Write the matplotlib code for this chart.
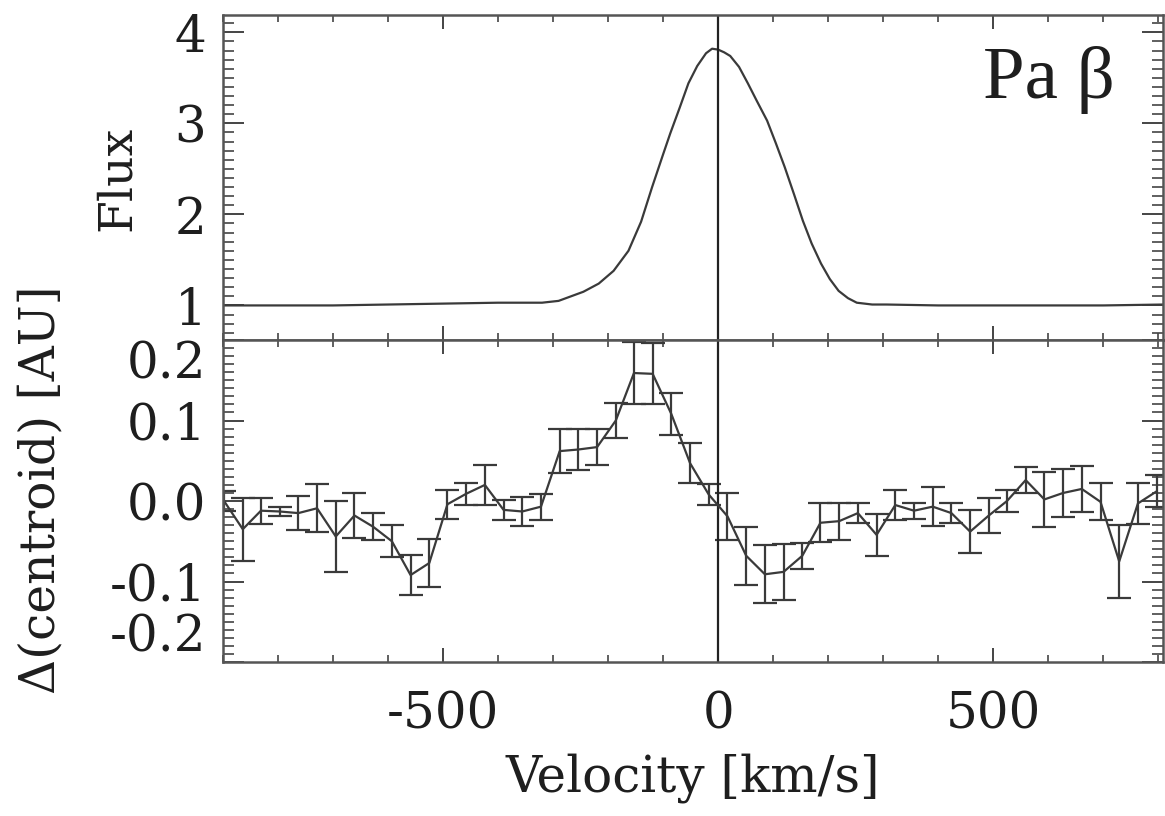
import matplotlib.pyplot as plt
from matplotlib.ticker import MultipleLocator

# Pa beta line profile (top panel)
flux_vel = [-900, -800, -700, -600, -500, -400, -320, -290, -272, -245, -217, -190,
            -163, -140, -120, -100, -87, -70, -54, -38, -22, -11, 0, 11, 22, 38, 54,
            70, 89, 105, 121, 138, 154, 170, 187, 203, 219, 236, 252, 280, 306, 400,
            500, 600, 700, 810]
flux = [1.0, 1.0, 1.0, 1.01, 1.02, 1.03, 1.03, 1.05, 1.09, 1.15, 1.24, 1.38,
        1.60, 1.92, 2.30, 2.66, 2.89, 3.17, 3.44, 3.63, 3.77, 3.82, 3.81, 3.78, 3.74, 3.62, 3.44,
        3.25, 3.03, 2.78, 2.52, 2.22, 1.93, 1.68, 1.46, 1.29, 1.16, 1.08, 1.03, 1.01, 1.01, 1.0,
        1.0, 1.0, 1.0, 1.01]

# centroid offset (bottom panel)
cen_vel = [-898, -864, -831, -797, -763, -729, -695, -661, -627, -593, -559, -525,
           -492, -458, -424, -390, -356, -322, -288, -254, -220, -186, -153, -119,
           -85, -51, -17, 17, 51, 85, 119, 153, 186, 220, 254, 288, 322, 356, 390,
           424, 458, 492, 525, 559, 593, 627, 661, 695, 729, 763, 797]
cen = [0.0, -0.035, -0.012, -0.013, -0.015, -0.009, -0.044, -0.018, -0.032, -0.05, -0.092, -0.077,
       -0.004, 0.009, 0.02, -0.011, -0.013, -0.007, 0.062, 0.064, 0.067, 0.10, 0.159, 0.158,
       0.108, 0.047, 0.008, -0.019, -0.068, -0.091, -0.088, -0.068, -0.027, -0.025, -0.015, -0.042,
       -0.005, -0.012, -0.007, -0.015, -0.038, -0.018, 0.0, 0.026, 0.002, 0.01, 0.015, -0.001,
       -0.075, -0.003, 0.012]
cen_err = [0.012, 0.039, 0.016, 0.005, 0.021, 0.03, 0.044, 0.028, 0.017, 0.02, 0.025, 0.03,
           0.018, 0.014, 0.025, 0.012, 0.018, 0.016, 0.027, 0.025, 0.022, 0.022, 0.039, 0.038,
           0.026, 0.025, 0.013, 0.029, 0.036, 0.036, 0.035, 0.016, 0.024, 0.023, 0.012, 0.026,
           0.019, 0.01, 0.024, 0.012, 0.027, 0.022, 0.014, 0.016, 0.034, 0.03, 0.029, 0.023,
           0.045, 0.025, 0.02]

plt.rcParams['font.family'] = ['DejaVu Serif']
col = '#3a3a3a'
txt = '#1e1e1e'

fig = plt.figure(figsize=(11.65, 8.16), dpi=100)
left, right = 0.1914, 0.998
ax1 = fig.add_axes([left, 0.5833, right - left, 0.9816 - 0.5833])
ax2 = fig.add_axes([left, 0.1887, right - left, 0.5833 - 0.1887])

ax1.plot(flux_vel, flux, color=col, lw=1.6)
ax1.set_ylim(0.62, 4.19)
ax1.yaxis.set_major_locator(MultipleLocator(1))
ax1.yaxis.set_minor_locator(MultipleLocator(0.1))
ax1.set_xticklabels([])
ax1.text(0.949, 0.745, 'Pa β', transform=ax1.transAxes, ha='right', va='baseline',
         fontsize=54, family='Liberation Serif', color=txt)

ax2.errorbar(cen_vel, cen, yerr=cen_err, color=col, lw=1.6, elinewidth=1.6,
             capsize=8.5, capthick=1.6)
ax2.set_ylim(-0.2, 0.2)
ax2.yaxis.set_minor_locator(MultipleLocator(0.01))
ax2.set_yticks([-0.2, -0.1, 0.0, 0.1, 0.2])
ax2.set_yticklabels(['-0.2', '-0.1', '0.0', '0.1', '0.2'])
labs = ax2.get_yticklabels()
labs[0].set_verticalalignment('bottom')
labs[-1].set_verticalalignment('top')

for ax in (ax1, ax2):
    ax.set_xlim(-900, 808)
    ax.axvline(0, color='#222222', lw=1.6)
    ax.xaxis.set_major_locator(MultipleLocator(500))
    ax.xaxis.set_minor_locator(MultipleLocator(100))
    ax.tick_params(which='both', direction='in', top=True, right=True, colors='#444444',
                   labelcolor=txt, labelsize=36, pad=12)
    ax.tick_params(axis='y', which='major', length=15, width=1.4)
    ax.tick_params(axis='y', which='minor', length=8, width=1.2)
    ax.tick_params(axis='x', which='major', length=10, width=1.4)
    ax.tick_params(axis='x', which='minor', length=5, width=1.2)
    for s in ax.spines.values():
        s.set_color('#555555')
        s.set_linewidth(1.8)

ax2.set_xticks([-500, 0, 500])
ax2.set_xticklabels(['-500', '0', '500'])
ax2.tick_params(axis='x', pad=20)
ax2.set_xlabel('Velocity [km/s]', fontsize=36, color=txt, labelpad=10)

fig.text(0.101, 0.782, 'Flux', rotation=90, ha='center', va='center', fontsize=34, color=txt)
fig.text(0.035, 0.40, 'Δ(centroid) [AU]', rotation=90, ha='center', va='center',
         fontsize=35, color=txt)

fig.savefig('out.png', dpi=100)
